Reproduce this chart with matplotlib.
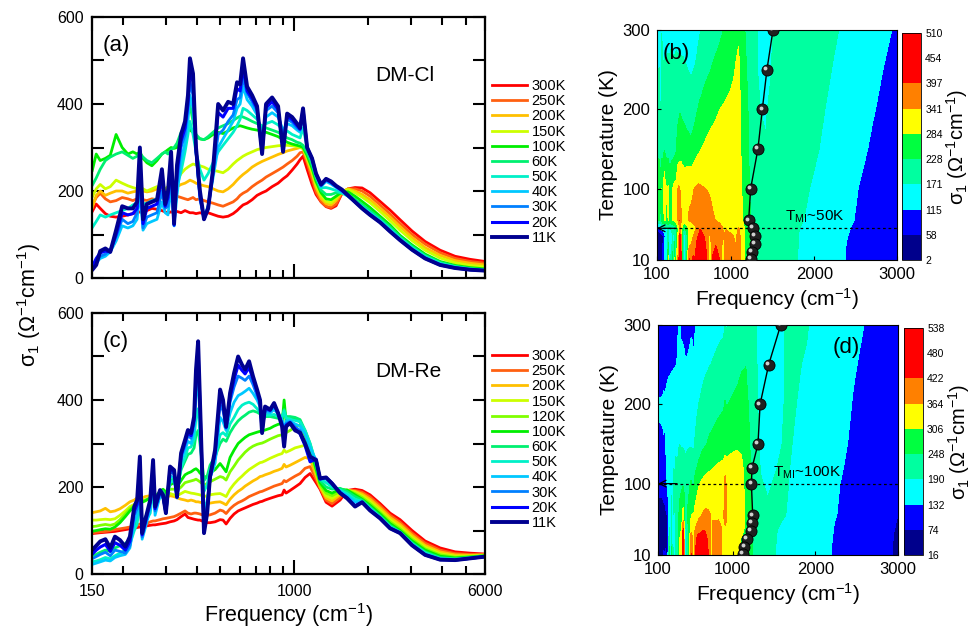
import numpy as np
import matplotlib

matplotlib.use("Agg")
import matplotlib.pyplot as plt
from matplotlib.ticker import FixedLocator, FixedFormatter, NullFormatter
from matplotlib.transforms import offset_copy

plt.rcParams["font.family"] = ["Liberation Sans", "DejaVu Sans"]
plt.rcParams["mathtext.default"] = "regular"

# ---------------------------------------------------------------- DM-Cl data
# frequency grid in cm^-1 (100 and 125 only feed the contour map)
FREQ_CL = [
    100, 125, 150, 156, 162, 170, 178, 188, 199, 210,
    220, 229, 235, 242, 251, 263, 276, 289, 298, 306,
    315, 324, 333, 346, 359, 369, 376, 387, 398, 413,
    429, 446, 467, 490, 513, 538, 564, 585, 602, 619,
    643, 674, 706, 740, 768, 813, 860, 901, 936, 981,
    1028, 1057, 1087, 1129, 1183, 1228, 1287, 1349, 1414, 1482,
    1568, 1659, 1771, 1892, 2039, 2240, 2460, 2702, 3024, 3417,
    3934, 4528, 5213, 6000]
TEMPS_CL = [300, 250, 200, 150, 100, 60, 50, 40, 30, 20, 11]
CL_300K = [
    150, 150, 152, 170, 160, 148, 142, 140, 142, 145,
    148, 150, 152, 150, 155, 160, 158, 155, 152, 150,
    152, 150, 153, 150, 155, 152, 150, 150, 148, 150,
    148, 150, 146, 142, 140, 142, 148, 155, 162, 168,
    172, 180, 190, 196, 200, 210, 218, 228, 235, 248,
    262, 272, 280, 250, 215, 192, 175, 164, 160, 166,
    195, 205, 208, 207, 196, 176, 156, 134, 108, 84,
    64, 50, 43, 38]
CL_250K = [
    170, 172, 165, 185, 195, 182, 175, 178, 185, 182,
    178, 182, 185, 180, 178, 182, 180, 185, 180, 178,
    182, 185, 188, 185, 182, 180, 182, 185, 180, 182,
    178, 175, 172, 168, 165, 170, 175, 182, 190, 195,
    200, 210, 218, 225, 232, 240, 248, 255, 262, 270,
    280, 288, 290, 265, 228, 198, 176, 165, 162, 170,
    196, 205, 205, 200, 188, 168, 147, 125, 100, 78,
    58, 45, 38, 34]
CL_200K = [
    185, 185, 160, 190, 200, 190, 195, 200, 200, 195,
    198, 200, 205, 200, 198, 200, 205, 200, 198, 205,
    210, 205, 210, 215, 218, 222, 225, 222, 218, 215,
    212, 210, 205, 200, 198, 205, 215, 225, 232, 238,
    245, 255, 262, 268, 272, 278, 284, 288, 292, 295,
    298, 300, 298, 272, 240, 208, 183, 171, 168, 178,
    198, 205, 200, 192, 180, 160, 140, 118, 93, 70,
    52, 40, 34, 30]
CL_150K = [
    210, 210, 185, 205, 215, 205, 210, 225, 218, 212,
    208, 205, 210, 205, 200, 205, 210, 208, 205, 210,
    212, 215, 225, 240, 250, 255, 258, 262, 260, 258,
    255, 250, 248, 245, 242, 250, 262, 270, 275, 280,
    285, 290, 295, 298, 300, 302, 304, 305, 305, 304,
    302, 300, 298, 276, 245, 213, 189, 176, 173, 183,
    200, 203, 196, 186, 173, 153, 132, 110, 86, 64,
    46, 35, 29, 26]
CL_100K = [
    285, 280, 245, 285, 270, 275, 282, 330, 300, 285,
    290, 285, 290, 275, 265, 258, 270, 285, 290, 295,
    300, 298, 300, 330, 350, 345, 340, 335, 325, 320,
    318, 322, 330, 335, 332, 338, 345, 348, 350, 348,
    345, 342, 340, 338, 335, 330, 325, 318, 312, 308,
    305, 303, 300, 282, 252, 222, 196, 182, 180, 188,
    198, 198, 188, 176, 162, 142, 122, 98, 76, 55,
    38, 29, 24, 21]
CL_60K = [
    240, 230, 212, 230, 250, 270, 278, 285, 290, 282,
    275, 280, 285, 278, 270, 265, 275, 285, 290, 285,
    295, 300, 310, 335, 350, 380, 398, 360, 330, 320,
    318, 325, 335, 345, 350, 355, 362, 368, 372, 370,
    366, 360, 355, 350, 345, 340, 335, 328, 322, 318,
    312, 310, 305, 288, 260, 230, 202, 192, 192, 196,
    196, 192, 181, 169, 155, 137, 117, 95, 73, 52,
    36, 27, 22, 19]
CL_50K = [
    60, 90, 115, 130, 145, 140, 145, 150, 155, 160,
    168, 172, 178, 170, 172, 178, 182, 185, 188, 186,
    190, 195, 210, 245, 290, 330, 360, 330, 290, 250,
    225, 240, 265, 290, 305, 320, 335, 350, 365, 390,
    385, 375, 365, 345, 355, 360, 352, 340, 338, 330,
    325, 322, 345, 300, 268, 235, 207, 208, 205, 201,
    195, 188, 176, 164, 150, 133, 113, 92, 70, 50,
    34, 26, 21, 18]
CL_40K = [
    10, 15, 25, 35, 45, 50, 60, 85, 120, 115,
    120, 135, 200, 110, 125, 130, 135, 175, 150, 145,
    210, 120, 190, 270, 310, 360, 420, 390, 290, 190,
    140, 165, 230, 300, 320, 340, 360, 390, 400, 440,
    410, 395, 375, 320, 370, 380, 370, 340, 355, 350,
    340, 335, 375, 300, 270, 236, 210, 222, 216, 208,
    198, 189, 175, 162, 148, 130, 110, 89, 67, 47,
    32, 24, 20, 17]
CL_30K = [
    8, 12, 20, 40, 50, 55, 65, 95, 135, 125,
    130, 150, 240, 115, 140, 145, 150, 200, 160, 165,
    240, 120, 220, 300, 330, 390, 450, 420, 290, 180,
    138, 165, 240, 330, 340, 360, 375, 410, 415, 460,
    425, 405, 385, 300, 385, 395, 380, 320, 365, 358,
    345, 340, 385, 300, 272, 238, 212, 225, 218, 210,
    200, 189, 175, 161, 146, 129, 108, 88, 66, 46,
    31, 24, 19, 17]
CL_20K = [
    6, 10, 25, 45, 58, 62, 60, 100, 150, 145,
    148, 160, 270, 125, 160, 165, 170, 230, 165, 185,
    270, 122, 240, 315, 345, 400, 480, 450, 295, 190,
    135, 160, 245, 380, 370, 390, 390, 435, 430, 485,
    430, 412, 390, 290, 392, 405, 388, 300, 372, 364,
    350, 342, 388, 300, 275, 240, 214, 227, 220, 211,
    201, 189, 175, 160, 145, 128, 107, 87, 65, 45,
    30, 23, 19, 17]
CL_11K = [
    5, 8, 18, 30, 62, 68, 60, 110, 165, 160,
    160, 175, 300, 135, 170, 175, 180, 250, 170, 200,
    290, 125, 260, 330, 360, 420, 505, 470, 300, 200,
    135, 160, 250, 400, 385, 405, 400, 450, 445, 505,
    440, 420, 395, 285, 400, 415, 395, 290, 378, 370,
    355, 345, 390, 300, 275, 240, 215, 228, 222, 212,
    203, 190, 175, 160, 145, 128, 107, 87, 65, 45,
    30, 23, 19, 17]
SPECTRA_CL = [CL_300K, CL_250K, CL_200K, CL_150K, CL_100K, CL_60K,
              CL_50K, CL_40K, CL_30K, CL_20K, CL_11K]

# ---------------------------------------------------------------- DM-Re data
FREQ_RE = [
    100, 125, 150, 156, 162, 170, 178, 186, 195, 205,
    214, 223, 229, 235, 240, 247, 259, 266, 271, 284,
    292, 300, 312, 324, 333, 346, 359, 369, 380, 391,
    398, 406, 413, 421, 429, 442, 454, 476, 499, 513,
    528, 548, 569, 591, 613, 631, 655, 680, 706, 726,
    740, 761, 798, 828, 860, 893, 910, 927, 962, 1009,
    1057, 1108, 1161, 1228, 1275, 1349, 1427, 1539, 1643, 1771,
    1892, 2039, 2240, 2460, 2702, 3024, 3417, 3934, 4528, 5213,
    6000]
TEMPS_RE = [300, 250, 200, 150, 120, 100, 60, 50, 40, 30, 20, 11]
RE_300K = [
    90, 92, 93, 94, 95, 96, 97, 98, 100, 102,
    104, 105, 107, 108, 108, 110, 112, 113, 113, 115,
    116, 117, 120, 122, 125, 132, 138, 130, 128, 126,
    125, 124, 124, 122, 120, 118, 118, 120, 125, 124,
    115, 128, 138, 145, 149, 152, 156, 160, 163, 166,
    167, 170, 174, 177, 180, 182, 193, 186, 192, 200,
    208, 222, 231, 210, 195, 165, 156, 170, 192, 195,
    192, 182, 162, 140, 125, 100, 76, 60, 51, 48,
    46]
RE_250K = [
    92, 93, 95, 96, 97, 98, 100, 102, 104, 106,
    108, 110, 112, 115, 113, 115, 120, 122, 122, 125,
    127, 128, 130, 132, 135, 140, 145, 140, 138, 140,
    140, 139, 138, 136, 135, 135, 136, 140, 147, 145,
    139, 150, 158, 164, 168, 172, 178, 182, 186, 189,
    190, 193, 198, 202, 205, 208, 215, 212, 218, 225,
    231, 243, 247, 218, 198, 170, 162, 176, 192, 192,
    188, 177, 157, 135, 119, 94, 71, 55, 47, 45,
    45]
RE_200K = [
    140, 140, 141, 143, 145, 151, 143, 145, 150, 158,
    166, 170, 175, 178, 175, 178, 180, 178, 176, 180,
    178, 176, 180, 178, 175, 172, 170, 168, 170, 168,
    166, 166, 165, 164, 162, 162, 163, 165, 166, 163,
    159, 172, 182, 190, 196, 202, 208, 214, 219, 224,
    225, 228, 232, 236, 239, 243, 252, 246, 250, 256,
    262, 268, 265, 226, 200, 175, 168, 182, 192, 190,
    184, 172, 152, 130, 114, 89, 66, 51, 44, 43,
    44]
RE_150K = [
    122, 123, 124, 124, 125, 126, 125, 127, 135, 145,
    155, 160, 165, 170, 168, 170, 172, 175, 172, 178,
    180, 178, 185, 182, 180, 185, 190, 188, 186, 185,
    184, 183, 182, 180, 178, 180, 182, 184, 185, 182,
    178, 195, 207, 217, 225, 232, 240, 246, 252, 256,
    257, 260, 266, 270, 274, 277, 285, 280, 284, 290,
    293, 296, 285, 235, 205, 180, 174, 186, 193, 188,
    180, 167, 147, 125, 109, 84, 62, 47, 41, 41,
    43]
RE_120K = [
    110, 110, 109, 110, 112, 114, 112, 115, 125, 138,
    150, 158, 165, 172, 168, 170, 175, 180, 176, 185,
    190, 186, 195, 195, 192, 200, 210, 212, 214, 216,
    218, 215, 212, 208, 205, 208, 212, 218, 224, 222,
    216, 235, 248, 262, 272, 280, 288, 294, 298, 300,
    301, 304, 310, 314, 318, 320, 330, 325, 330, 338,
    342, 318, 285, 238, 205, 186, 180, 190, 193, 185,
    176, 162, 142, 120, 104, 80, 58, 44, 39, 40,
    42]
RE_100K = [
    100, 100, 98, 100, 102, 104, 103, 108, 118, 132,
    145, 155, 162, 170, 165, 168, 175, 185, 178, 190,
    195, 188, 205, 210, 200, 215, 228, 232, 235, 240,
    242, 238, 232, 228, 222, 225, 232, 240, 254, 245,
    235, 268, 285, 300, 308, 314, 320, 323, 326, 328,
    329, 331, 335, 340, 344, 346, 400, 350, 354, 358,
    350, 322, 292, 242, 210, 192, 186, 195, 193, 182,
    172, 158, 138, 116, 100, 76, 55, 41, 37, 39,
    42]
RE_60K = [
    40, 41, 42, 45, 50, 55, 52, 60, 65, 70,
    80, 110, 125, 180, 110, 130, 150, 200, 160, 185,
    190, 170, 215, 220, 195, 240, 260, 275, 278, 290,
    320, 330, 300, 260, 215, 225, 250, 270, 300, 310,
    305, 325, 340, 352, 360, 365, 372, 375, 372, 368,
    355, 362, 362, 360, 358, 360, 378, 362, 362, 360,
    355, 330, 300, 250, 215, 200, 195, 197, 190, 178,
    170, 154, 134, 112, 97, 72, 51, 38, 35, 38,
    41]
RE_50K = [
    25, 26, 28, 30, 33, 38, 35, 42, 48, 55,
    68, 100, 115, 170, 95, 118, 140, 195, 150, 178,
    182, 160, 210, 215, 185, 245, 268, 290, 292, 310,
    360, 380, 320, 250, 190, 205, 240, 265, 320, 325,
    318, 345, 360, 378, 388, 392, 395, 390, 380, 372,
    350, 365, 365, 367, 362, 360, 375, 358, 356, 353,
    350, 330, 300, 255, 218, 210, 200, 193, 185, 172,
    167, 151, 131, 109, 96, 70, 49, 36, 34, 37,
    41]
RE_40K = [
    18, 20, 22, 25, 28, 32, 30, 38, 42, 45,
    60, 120, 135, 210, 80, 105, 150, 220, 135, 180,
    175, 150, 225, 222, 175, 260, 285, 305, 300, 330,
    410, 450, 350, 230, 140, 170, 220, 255, 360, 350,
    330, 370, 395, 410, 415, 420, 427, 415, 400, 385,
    345, 372, 370, 378, 368, 355, 330, 352, 352, 345,
    340, 322, 290, 262, 220, 218, 205, 190, 180, 166,
    166, 149, 130, 107, 95, 68, 46, 35, 33, 37,
    40]
RE_30K = [
    25, 30, 35, 40, 45, 50, 42, 55, 52, 48,
    65, 135, 150, 235, 85, 112, 158, 235, 145, 185,
    178, 140, 235, 230, 175, 268, 295, 318, 312, 345,
    440, 490, 380, 240, 110, 155, 220, 270, 390, 375,
    335, 395, 430, 455, 450, 445, 455, 435, 410, 390,
    335, 378, 374, 386, 370, 348, 310, 346, 350, 338,
    330, 298, 262, 263, 219, 222, 208, 188, 176, 158,
    165, 147, 129, 106, 94, 67, 45, 34, 32, 36,
    40]
RE_20K = [
    25, 35, 45, 55, 62, 68, 52, 72, 66, 55,
    75, 145, 160, 250, 90, 118, 165, 250, 150, 190,
    180, 140, 242, 235, 176, 273, 302, 325, 318, 355,
    455, 515, 390, 245, 100, 148, 222, 278, 410, 390,
    337, 405, 447, 480, 468, 460, 475, 447, 418, 395,
    328, 382, 376, 390, 370, 343, 300, 342, 348, 334,
    322, 295, 258, 264, 218, 222, 209, 187, 175, 156,
    165, 147, 128, 105, 94, 66, 44, 33, 32, 36,
    40]
RE_11K = [
    20, 35, 55, 65, 75, 80, 60, 86, 78, 63,
    86, 155, 170, 270, 94, 124, 170, 262, 155, 193,
    182, 140, 247, 239, 178, 278, 308, 331, 324, 362,
    470, 535, 400, 247, 94, 140, 224, 285, 424, 400,
    339, 416, 462, 500, 481, 470, 489, 454, 424, 400,
    324, 385, 378, 393, 370, 339, 293, 339, 347, 330,
    325, 300, 270, 262, 220, 222, 208, 186, 174, 155,
    165, 146, 128, 105, 94, 66, 44, 33, 32, 36,
    40]
SPECTRA_RE = [RE_300K, RE_250K, RE_200K, RE_150K, RE_120K, RE_100K,
              RE_60K, RE_50K, RE_40K, RE_30K, RE_20K, RE_11K]

# peak positions (cm^-1) vs temperature for the maps
PEAK_CL_T = [300, 250, 200, 150, 100, 60, 50, 40, 30, 20, 11]
PEAK_CL_FREQ = [1502, 1429, 1373, 1320, 1232, 1208, 1256, 1280, 1284, 1248, 1236]
PEAK_RE_T = [300, 250, 200, 150, 120, 100, 60, 50, 40, 30, 20, 11]
PEAK_RE_FREQ = [1582, 1437, 1333, 1308, 1236, 1228, 1244, 1232, 1220, 1172, 1143, 1123]
TMI_CL = 50
TMI_RE = 100

LEVELS_CL = [2, 58, 115, 171, 228, 284, 341, 397, 454, 510]
LEVELS_RE = [16, 74, 132, 190, 248, 306, 364, 422, 480, 538]
MAP_COLORS = ["#00008c", "#0000ff", "#00ffff", "#00ffa0", "#00ff40",
              "#ffff00", "#ff8000", "#ff0000", "#ff0000"]

LINE_COLORS = {300: "#ff0000", 250: "#ff6010", 200: "#ffc000", 150: "#ccff00",
               120: "#80ff00", 100: "#00ee00", 60: "#00f070", 50: "#00f0c8",
               40: "#00c8ff", 30: "#0080ff", 20: "#0000ff", 11: "#000090"}

MINOR_X = [200, 300, 400, 500, 600, 700, 800, 900, 2000, 3000, 4000, 5000]
SIGMA_LABEL = "σ$_1$ (Ω$^{-1}$cm$^{-1}$)"
FREQ_LABEL = "Frequency (cm$^{-1}$)"


def draw_spectra(ax, freq, spectra, temps, panel, name, legend_top, show_x):
    for temp, sigma in zip(temps, spectra):
        lw = 2.8 if temp == 11 else (2.2 if temp == 20 else 2.0)
        ax.plot(freq, sigma, color=LINE_COLORS[temp], lw=lw, label=f"{temp}K",
                solid_joinstyle="round")
    ax.set_xscale("log")
    ax.set_xlim(150, 6000)
    ax.set_ylim(0, 600)
    ax.xaxis.set_major_locator(FixedLocator([150, 1000, 6000]))
    ax.xaxis.set_major_formatter(FixedFormatter(["150", "1000", "6000"]))
    ax.xaxis.set_minor_locator(FixedLocator(MINOR_X))
    ax.xaxis.set_minor_formatter(NullFormatter())
    ax.yaxis.set_major_locator(FixedLocator([0, 200, 400, 600]))
    ax.yaxis.set_minor_locator(FixedLocator([100, 300, 500]))
    ax.tick_params(which="both", direction="in", top=True, right=True, width=1.5,
                   labelsize=11.5)
    ax.tick_params(axis="y", which="both", length=8.5, pad=6)
    ax.tick_params(axis="x", which="major", length=10, pad=7)
    ax.tick_params(axis="x", which="minor", length=6)
    for spine in ax.spines.values():
        spine.set_linewidth(1.6)
    if show_x:
        ax.set_xlabel(FREQ_LABEL, fontsize=15.5, labelpad=2)
    else:
        ax.tick_params(axis="x", labelbottom=False)
    ax.text(0.028, 0.89, panel, transform=ax.transAxes, fontsize=16, va="center")
    ax.text(0.72, 0.776, name, transform=ax.transAxes, fontsize=15, va="center")
    ax.legend(loc="upper left", bbox_to_anchor=(1.018, legend_top), frameon=False,
              fontsize=10.5, handlelength=2.4, handletextpad=0.3, labelspacing=0.08,
              borderaxespad=0, borderpad=0)


def draw_map(fig, ax, cax, freq, spectra, temps, levels, peak_f, peak_t,
             tmi, panel, panel_xy, tmi_xy):
    order = np.argsort(temps)
    temp_grid = np.asarray(temps, dtype=float)[order]
    sigma = np.asarray(spectra, dtype=float)[order]
    sigma = np.clip(sigma, levels[0] + 0.01, levels[-1] - 0.01)
    cs = ax.contourf(np.asarray(freq, dtype=float), temp_grid, sigma,
                     levels=levels, colors=MAP_COLORS)

    ax.plot([100, 3000], [tmi, tmi], color="black", lw=0.9, ls=(0, (2.2, 2.2)))
    ax.annotate("", xy=(100, tmi), xytext=(330, tmi),
                arrowprops=dict(arrowstyle="->", color="black", lw=0.9,
                                mutation_scale=12, shrinkA=0, shrinkB=0))
    ax.text(tmi_xy[0], tmi_xy[1], f"T$_{{MI}}$~{tmi}K", fontsize=11, va="bottom")

    ax.plot(peak_f, peak_t, color="black", lw=1.0, zorder=3)
    ax.plot(peak_f, peak_t, "o", ms=8, mfc="#202020", mec="black", mew=0.6,
            zorder=4)
    shine = offset_copy(ax.transData, fig=fig, x=-1.3, y=1.3, units="points")
    ax.plot(peak_f, peak_t, "o", ms=2.8, mfc="#d0d0d0", mec="none",
            transform=shine, zorder=5)

    ax.set_xlim(100, 3000)
    ax.set_ylim(10, 300)
    ax.set_xticks([100, 1000, 2000, 3000])
    ax.set_yticks([10, 100, 200, 300])
    ax.tick_params(direction="in", length=3, width=0.8, labelsize=12, pad=5)
    for spine in ax.spines.values():
        spine.set_linewidth(0.8)
    ax.set_xlabel(FREQ_LABEL, fontsize=15, labelpad=3)
    ax.set_ylabel("Temperature (K)", fontsize=15, labelpad=3)
    ax.text(panel_xy[0], panel_xy[1], panel, transform=ax.transAxes,
            fontsize=16, va="center")

    cbar = fig.colorbar(cs, cax=cax, ticks=levels)
    cbar.outline.set_linewidth(0.6)
    cax.tick_params(length=0, labelsize=7.5, pad=3)
    cax.set_ylabel(SIGMA_LABEL, fontsize=14.5, labelpad=1)


def main():
    fig = plt.figure(figsize=(9.74, 6.29), dpi=100)
    ax_a = fig.add_axes([0.0945, 0.558, 0.4035, 0.415])
    ax_c = fig.add_axes([0.0945, 0.0874, 0.4035, 0.415])
    ax_b = fig.add_axes([0.6745, 0.5866, 0.2464, 0.3657])
    cax_b = fig.add_axes([0.9261, 0.5866, 0.0195, 0.3609])
    ax_d = fig.add_axes([0.6756, 0.1176, 0.2464, 0.3657])
    cax_d = fig.add_axes([0.9281, 0.1176, 0.0195, 0.3609])

    draw_spectra(ax_a, FREQ_CL, SPECTRA_CL, TEMPS_CL, "(a)", "DM-Cl", 0.762, False)
    draw_spectra(ax_c, FREQ_RE, SPECTRA_RE, TEMPS_RE, "(c)", "DM-Re", 0.862, True)
    fig.text(0.030, 0.515, SIGMA_LABEL, rotation=90, ha="center", va="center",
             fontsize=15.5)

    draw_map(fig, ax_b, cax_b, FREQ_CL, SPECTRA_CL, TEMPS_CL, LEVELS_CL,
             PEAK_CL_FREQ, PEAK_CL_T, TMI_CL, "(b)", (0.025, 0.896), (1647, 54))
    draw_map(fig, ax_d, cax_d, FREQ_RE, SPECTRA_RE, TEMPS_RE, LEVELS_RE,
             PEAK_RE_FREQ, PEAK_RE_T, TMI_RE, "(d)", (0.729, 0.902), (1486, 103))

    fig.savefig("out.png", dpi=100)


if __name__ == "__main__":
    main()
